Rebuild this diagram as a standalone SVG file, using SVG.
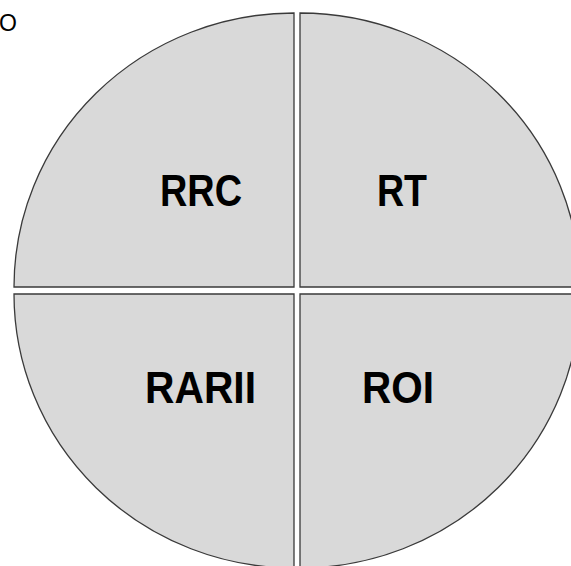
<svg xmlns="http://www.w3.org/2000/svg" width="571" height="566" viewBox="0 0 571 566">
<style>
.q{fill:#d9d9d9;stroke:#3a3a3a;stroke-width:1.3}
.lbl{font-family:"Liberation Sans",Arial,sans-serif;font-weight:bold;font-size:44px;fill:#000}
.o{font-family:"Liberation Sans",Arial,sans-serif;font-size:23px;fill:#000}
</style>
<rect width="571" height="566" fill="#fff"/>
<text class="o" x="-1" y="31">O</text>
<g id="q-rrc">
<path class="q" d="M294,287 L294,13 A280,274 0 0 0 14,287 Z"/>
<text class="lbl" x="160" y="206" textLength="82" lengthAdjust="spacingAndGlyphs">RRC</text>
</g>
<g id="q-rt">
<path class="q" d="M300,287 L300,13 A280,274 0 0 1 580,287 Z"/>
<text class="lbl" x="377" y="206" textLength="50" lengthAdjust="spacingAndGlyphs">RT</text>
</g>
<g id="q-rarii">
<path class="q" d="M294,294 L294,568 A280,274 0 0 1 14,294 Z"/>
<text class="lbl" x="145" y="403" textLength="111" lengthAdjust="spacingAndGlyphs">RARII</text>
</g>
<g id="q-roi">
<path class="q" d="M300,294 L300,568 A280,274 0 0 0 580,294 Z"/>
<text class="lbl" x="362" y="403" textLength="72" lengthAdjust="spacingAndGlyphs">ROI</text>
</g>
<g id="connectors"></g>
</svg>
